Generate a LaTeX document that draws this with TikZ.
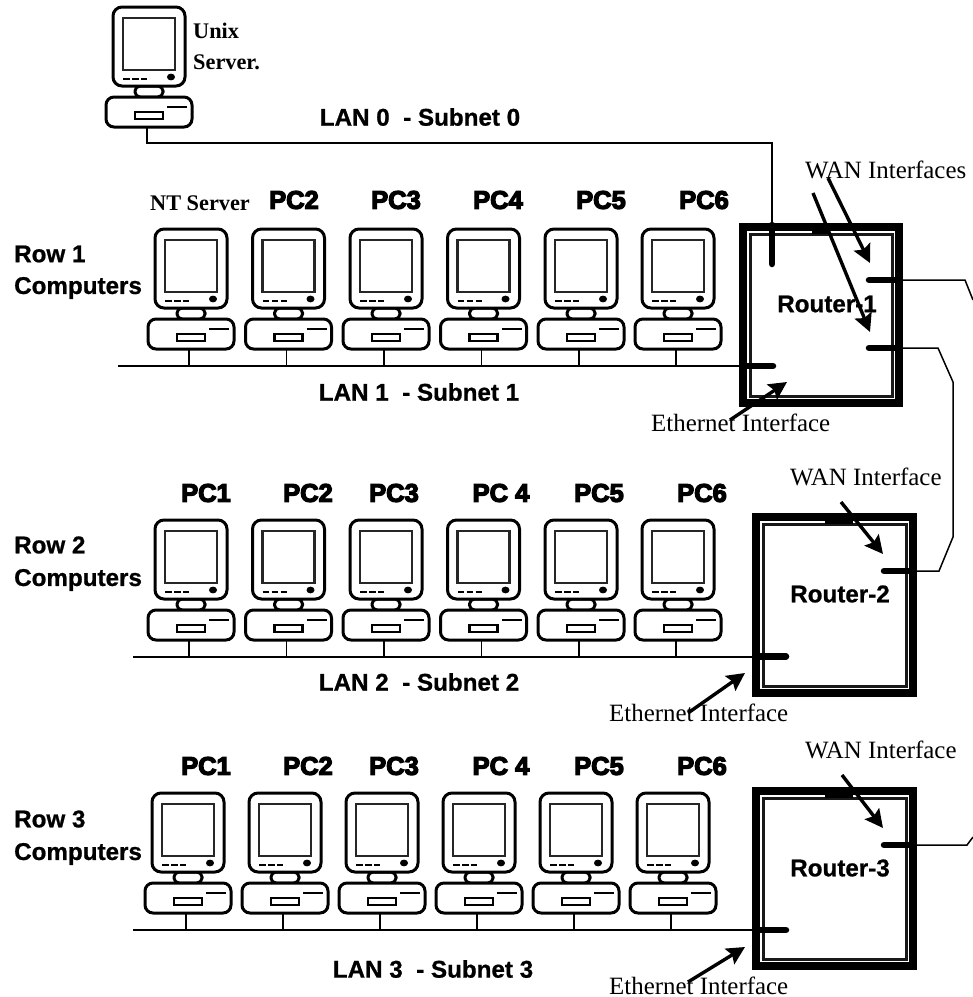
\documentclass[tikz,border=0pt]{standalone}
\usepackage{fontspec}
\setmainfont{Liberation Serif}
\newfontfamily\arialf[FakeBold=0.8]{Liberation Sans Bold}
\newfontfamily\heavyf[FakeBold=5]{Liberation Sans Bold}
\usetikzlibrary{arrows.meta}
\tikzset{
  x=1pt,y=-1pt,
  pcoutline/.style={line width=3pt,fill=white},
  pcthin/.style={line width=2pt},
  lan/.style={line width=2pt},
  wire/.style={line width=1.5pt},
  port/.style={line width=6.5pt,line cap=round},
  callout/.style={line width=3.4pt,-{Stealth[length=18pt,width=18pt,inset=3pt]}},
  sans/.style={font=\arialf\fontsize{24.2}{26}\selectfont,inner sep=0pt},
  heavy/.style={font=\heavyf\fontsize{25.5}{28}\selectfont,inner sep=0pt},
  serifl/.style={font=\fontsize{24.9}{26}\selectfont,inner sep=0pt},
  serifb/.style={font=\bfseries\fontsize{22.3}{24}\selectfont,inner sep=0pt},
}
\newcommand{\computer}[3]{%
  \begin{scope}[shift={(#2,#3)}]
    \draw[pcoutline,rounded corners=5pt] (22,79) rectangle (50,90);
    \draw[pcoutline,rounded corners=9pt] (0,0) rectangle (72,79);
    \draw[line width=2.4pt,draw=black!85] (10,11) rectangle (62,63);
    \draw[pcthin,dash pattern=on 6.5pt off 2.5pt] (10,72) -- (34,72);
    \fill (58,70) ellipse (4pt and 3.4pt);
    \draw[pcoutline,rounded corners=8pt] (-7,90) rectangle (79,120);
    \draw[line width=2.4pt] (22,105) rectangle (50,112);
    \draw[line width=2.4pt] (54,100) -- (74,100);
    \coordinate (#1) at (34,120);
  \end{scope}}
\newcommand{\routerbox}[5]{%
  \draw[line width=7.6pt] ({#2+3.8},{#3+3.8}) rectangle ({#4-3.8},{#5-3.8});
  \draw[line width=3pt,draw=black!90] ({#2+11},{#3+11}) rectangle ({#4-11},{#5-11});
  \node[inner sep=0pt,minimum size=0pt] (#1) at ({(#2+#4)/2},{(#3+#5)/2}) {};
}
\begin{document}
\begin{tikzpicture}
\useasboundingbox (0,0) rectangle (973,997);
\fill[white] (0,0) rectangle (973,997);

% computers
\computer{ux}{113}{7}
\foreach \n/\x/\z in {1/155/152,2/252.5/249,3/350/346,4/447.5/443,5/545/540,6/642/637}{
  \computer{a\n}{\x}{229}
  \computer{b\n}{\x}{520}
  \computer{c\n}{\z}{793}
}

% routers
\routerbox{r1}{739}{223}{903}{407}
\routerbox{r2}{752}{513}{917}{697}
\routerbox{r3}{752}{787}{917}{970}
\fill (812,230) rectangle (830,234);
\fill (825,520) rectangle (853,524);
\fill (825,794) rectangle (853,798);

% LAN backbones
\coordinate (la) at (118,366); \coordinate (lae) at (773,366);
\coordinate (lb) at (133,656.5); \coordinate (lbe) at (786,656.5);
\coordinate (lc) at (133,930); \coordinate (lce) at (786,930);
\draw[lan] (la) -- (lae);
\draw[lan] (lb) -- (lbe);
\draw[lan] (lc) -- (lce);
\foreach \n in {1,...,6}{
  \draw[line width=1.7pt] (a\n) -- (a\n |- la);
  \draw[line width=1.7pt] (b\n) -- (b\n |- lb);
  \draw[line width=1.7pt] (c\n) -- (c\n |- lc);
}

% ports
\coordinate (p0a) at (772,225); \coordinate (p0b) at (772,264);
\coordinate (p1a) at (869,280); \coordinate (p1b) at (897,280);
\coordinate (p2a) at (869,348); \coordinate (p2b) at (897,348);
\coordinate (p3a) at (884,571); \coordinate (p3b) at (911,571);
\coordinate (p4a) at (884,845); \coordinate (p4b) at (911,845);
\draw[port] (p0a) -- (p0b);
\draw[port] (p1a) -- (p1b);
\draw[port] (p2a) -- (p2b);
\draw[port] (p3a) -- (p3b);
\draw[port] (p4a) -- (p4b);
\draw[port] (745,366) -- (lae);
\draw[port] (760,656.5) -- (lbe);
\draw[port] (760,930) -- (lce);

% wires
\coordinate (e1) at (973,300);
\coordinate (e3) at (973,837);
\draw[wire] (ux) -- (147,143) -- (772,143) -- (p0a);
\draw[wire] (p1b) -- (965,280) -- (e1);
\draw[wire] (p2b) -- (938,348) -- (953,382) -- (953,537) -- (939,571) -- (p3b);
\draw[wire] (p4b) -- (967,845) -- (e3);

% texts
\node[serifb,anchor=west,align=left] (tu1) at (193,31) {Unix};
\node[serifb,anchor=west,align=left] (tu2) at (193,62) {Server.};
\node[sans] (l0) at (420,117) {LAN 0\ \ - Subnet 0};
\node[sans] (l1) at (419,392) {LAN 1\ \ - Subnet 1};
\node[sans] (l2) at (419,682) {LAN 2\ \ - Subnet 2};
\node[sans] (l3) at (433,969) {LAN 3\ \ - Subnet 3};
\node[sans,anchor=west] (ra1) at (14,254) {Row 1};
\node[sans,anchor=west] (ra2) at (14,288) {Computers};
\node[sans,anchor=west] (rb1) at (14,545) {Row 2};
\node[sans,anchor=west] (rb2) at (14,580) {Computers};
\node[sans,anchor=west] (rc1) at (14,819) {Row 3};
\node[sans,anchor=west] (rc2) at (14,854) {Computers};
\node[serifb] (nt) at (200,203) {NT Server};
\foreach \t/\x in {PC2/294,PC3/396,PC4/498,PC5/601,PC6/704}
  \node[heavy] (ta\t) at (\x,200) {\t};
\foreach \t/\x in {PC1/206,PC2/308,PC3/394,PC 4/501,PC5/599,PC6/702}{
  \node[heavy] at (\x,493) {\t};
  \node[heavy] at (\x,766) {\t};
}
\node[sans] (tr1) at (827,304) {Router-1};
\node[sans] (tr2) at (840,594) {Router-2};
\node[sans] (tr3) at (840,868) {Router-3};
\node[serifl,anchor=west] (w1) at (805,170) {WAN Interfaces};
\node[serifl,anchor=west] (w2) at (790,477) {WAN Interface};
\node[serifl,anchor=west] (w3) at (805,750) {WAN Interface};
\node[serifl,anchor=west] (e1t) at (651,423) {Ethernet Interface};
\node[serifl,anchor=west] (e2t) at (609,713) {Ethernet Interface};
\node[serifl,anchor=west] (e3t) at (609,986) {Ethernet Interface};

% callout arrows
\coordinate (c1s) at (828,178); \coordinate (c1e) at (870,263);
\coordinate (c2s) at (813,193); \coordinate (c2e) at (870,332);
\coordinate (c3s) at (730,420); \coordinate (c3e) at (787,382);
\coordinate (c4s) at (841,502); \coordinate (c4e) at (883,554);
\coordinate (c5s) at (688,713); \coordinate (c5e) at (745,673);
\coordinate (c6s) at (842,775); \coordinate (c6e) at (883,828);
\coordinate (c7s) at (688,982); \coordinate (c7e) at (745,947);
\foreach \k in {1,...,7} \draw[callout] (c\k s) -- (c\k e);
\end{tikzpicture}
\end{document}
